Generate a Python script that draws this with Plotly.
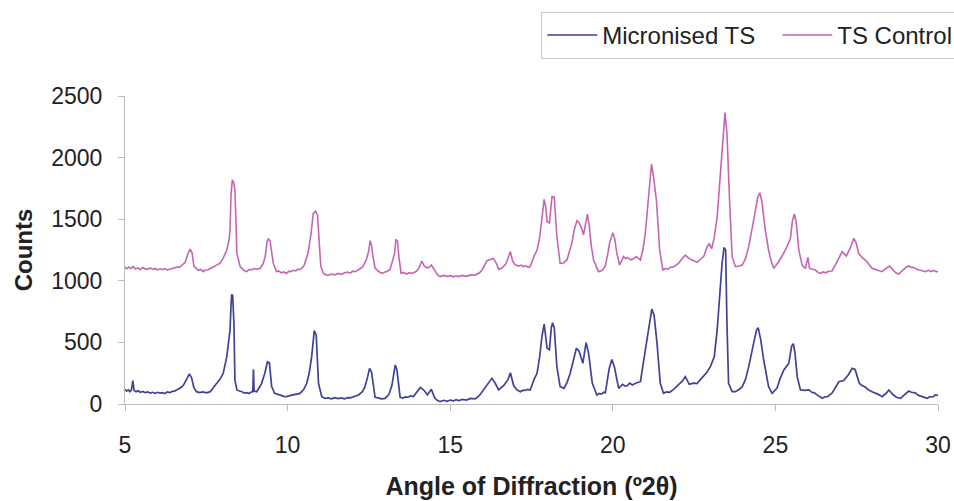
import plotly.graph_objects as go

# ---- data: (angle, counts) ----
control_points = [
    (5.00, 1110), (5.06, 1098), (5.12, 1112), (5.18, 1100), (5.25, 1115), (5.32, 1095), (5.40, 1105), (5.47, 1092),
    (5.55, 1108), (5.62, 1097), (5.70, 1095), (5.78, 1104), (5.85, 1093), (5.93, 1100), (6.00, 1088), (6.08, 1097),
    (6.15, 1090), (6.22, 1099), (6.30, 1088), (6.38, 1097), (6.45, 1100), (6.52, 1105), (6.60, 1112), (6.68, 1110),
    (6.75, 1125), (6.85, 1150), (6.93, 1215), (7.00, 1256), (7.06, 1230), (7.12, 1120), (7.25, 1085), (7.33, 1092),
    (7.41, 1074), (7.48, 1088), (7.55, 1090), (7.62, 1102), (7.70, 1110), (7.80, 1125), (7.92, 1142), (8.03, 1190),
    (8.13, 1250), (8.20, 1330), (8.23, 1420), (8.26, 1700), (8.30, 1818), (8.34, 1800), (8.38, 1737), (8.41, 1500),
    (8.44, 1225), (8.54, 1115), (8.65, 1085), (8.74, 1074), (8.82, 1092), (8.90, 1090), (8.97, 1100), (9.05, 1095),
    (9.15, 1100), (9.25, 1140), (9.31, 1196), (9.37, 1320), (9.41, 1340), (9.46, 1325), (9.50, 1250), (9.56, 1142),
    (9.66, 1074), (9.73, 1080), (9.80, 1065), (9.88, 1072), (9.97, 1060), (10.04, 1078), (10.10, 1075), (10.18, 1085),
    (10.25, 1080), (10.32, 1095), (10.38, 1090), (10.50, 1120), (10.63, 1225), (10.72, 1380), (10.79, 1548), (10.86, 1565),
    (10.92, 1530), (10.97, 1350), (11.02, 1120), (11.10, 1060), (11.18, 1048), (11.25, 1045), (11.35, 1055), (11.45, 1048),
    (11.55, 1060), (11.65, 1052), (11.75, 1066), (11.85, 1070), (11.93, 1062), (12.00, 1078), (12.09, 1075), (12.18, 1090),
    (12.30, 1110), (12.42, 1170), (12.49, 1237), (12.54, 1326), (12.58, 1290), (12.63, 1190), (12.69, 1104), (12.80, 1075),
    (12.90, 1060), (12.98, 1070), (13.05, 1075), (13.15, 1090), (13.24, 1170), (13.29, 1223), (13.33, 1337), (13.38, 1320),
    (13.42, 1200), (13.49, 1060), (13.57, 1068), (13.65, 1055), (13.74, 1066), (13.82, 1060), (13.95, 1075), (14.03, 1100),
    (14.13, 1161), (14.20, 1120), (14.28, 1105), (14.36, 1110), (14.42, 1128), (14.50, 1090), (14.62, 1045), (14.69, 1034),
    (14.80, 1044), (14.90, 1036), (15.00, 1042), (15.10, 1032), (15.18, 1040), (15.26, 1034), (15.38, 1044), (15.50, 1036),
    (15.62, 1048), (15.77, 1045), (15.90, 1065), (15.98, 1088), (16.08, 1140), (16.13, 1163), (16.25, 1175), (16.33, 1182),
    (16.42, 1140), (16.49, 1093), (16.60, 1105), (16.72, 1140), (16.80, 1200), (16.85, 1237), (16.92, 1160), (17.00, 1130),
    (17.10, 1120), (17.18, 1128), (17.25, 1115), (17.33, 1122), (17.40, 1110), (17.46, 1115), (17.58, 1200), (17.67, 1250),
    (17.75, 1350), (17.82, 1520), (17.89, 1661), (17.94, 1600), (17.98, 1480), (18.05, 1470), (18.10, 1620), (18.13, 1683),
    (18.20, 1680), (18.24, 1550), (18.28, 1358), (18.38, 1142), (18.48, 1145), (18.59, 1169), (18.68, 1240), (18.74, 1304),
    (18.82, 1420), (18.90, 1488), (18.97, 1470), (19.05, 1420), (19.10, 1372), (19.16, 1450), (19.22, 1542), (19.28, 1440),
    (19.34, 1280), (19.41, 1169), (19.56, 1074), (19.68, 1085), (19.77, 1120), (19.84, 1210), (19.90, 1304), (20.00, 1391),
    (20.06, 1340), (20.12, 1230), (20.21, 1128), (20.33, 1196), (20.40, 1180), (20.45, 1190), (20.55, 1170), (20.65, 1180),
    (20.72, 1196), (20.85, 1169), (20.93, 1260), (21.00, 1385), (21.13, 1737), (21.19, 1948), (21.25, 1850), (21.34, 1656),
    (21.40, 1420), (21.44, 1250), (21.54, 1088), (21.62, 1100), (21.70, 1095), (21.78, 1112), (21.85, 1110), (22.02, 1142),
    (22.12, 1175), (22.23, 1209), (22.35, 1180), (22.47, 1165), (22.59, 1150), (22.70, 1175), (22.80, 1200), (22.90, 1277),
    (22.97, 1300), (23.04, 1260), (23.12, 1350), (23.21, 1520), (23.31, 1872), (23.38, 2150), (23.45, 2365), (23.51, 2197),
    (23.55, 1900), (23.59, 1656), (23.67, 1196), (23.77, 1115), (23.88, 1120), (23.98, 1128), (24.08, 1180), (24.18, 1277),
    (24.28, 1420), (24.38, 1575), (24.46, 1680), (24.52, 1715), (24.58, 1650), (24.69, 1412), (24.79, 1250), (24.88, 1150),
    (24.95, 1101), (25.10, 1155), (25.20, 1200), (25.31, 1250), (25.46, 1340), (25.52, 1480), (25.58, 1542), (25.64, 1480),
    (25.72, 1250), (25.82, 1128), (25.92, 1100), (26.00, 1190), (26.05, 1100), (26.15, 1095), (26.23, 1088), (26.30, 1070),
    (26.38, 1060), (26.47, 1072), (26.55, 1065), (26.64, 1078), (26.74, 1080), (26.90, 1155), (27.05, 1237), (27.18, 1200),
    (27.31, 1271), (27.41, 1345), (27.48, 1310), (27.56, 1223), (27.66, 1190), (27.77, 1169), (27.87, 1130), (27.97, 1101),
    (28.10, 1090), (28.18, 1080), (28.28, 1074), (28.35, 1090), (28.40, 1100), (28.51, 1120), (28.56, 1105), (28.62, 1090),
    (28.70, 1065), (28.79, 1055), (28.87, 1075), (28.95, 1090), (29.02, 1110), (29.10, 1120), (29.18, 1108), (29.25, 1110),
    (29.33, 1095), (29.40, 1090), (29.50, 1080), (29.62, 1074), (29.70, 1085), (29.80, 1075), (29.88, 1085), (29.95, 1072),
    (30.00, 1078),
]

micronised_points = [
    (5.00, 120), (5.05, 105), (5.10, 115), (5.15, 100), (5.20, 115), (5.24, 189), (5.28, 110), (5.34, 100),
    (5.40, 108), (5.47, 95), (5.55, 102), (5.62, 92), (5.70, 98), (5.78, 88), (5.85, 95), (5.93, 86),
    (6.00, 95), (6.08, 88), (6.15, 92), (6.22, 84), (6.30, 98), (6.38, 92), (6.45, 102), (6.52, 105),
    (6.60, 115), (6.70, 130), (6.80, 154), (6.90, 200), (6.98, 244), (7.05, 210), (7.12, 130), (7.20, 100),
    (7.30, 92), (7.40, 98), (7.50, 90), (7.62, 100), (7.72, 130), (7.82, 168), (7.92, 200), (8.02, 249),
    (8.13, 384), (8.20, 520), (8.23, 601), (8.26, 800), (8.28, 890), (8.31, 880), (8.35, 655), (8.38, 195),
    (8.44, 114), (8.52, 105), (8.60, 100), (8.67, 88), (8.74, 92), (8.82, 85), (8.88, 98), (8.93, 100),
    (8.95, 281), (8.97, 105), (9.05, 100), (9.12, 130), (9.20, 168), (9.30, 250), (9.38, 343), (9.44, 335),
    (9.51, 141), (9.60, 86), (9.70, 75), (9.80, 70), (9.88, 62), (9.97, 60), (10.06, 68), (10.15, 72),
    (10.26, 80), (10.38, 86), (10.50, 120), (10.59, 168), (10.67, 260), (10.74, 384), (10.82, 595), (10.88, 560),
    (10.95, 168), (11.05, 60), (11.15, 45), (11.25, 50), (11.35, 42), (11.45, 52), (11.55, 44), (11.65, 50),
    (11.75, 42), (11.85, 52), (11.93, 50), (12.00, 58), (12.09, 62), (12.18, 73), (12.30, 100), (12.38, 141),
    (12.46, 220), (12.52, 289), (12.58, 260), (12.69, 55), (12.78, 50), (12.88, 42), (13.00, 46), (13.12, 80),
    (13.21, 154), (13.31, 317), (13.36, 280), (13.46, 55), (13.55, 48), (13.62, 58), (13.70, 55), (13.78, 65),
    (13.87, 60), (14.08, 135), (14.18, 115), (14.30, 75), (14.42, 119), (14.52, 50), (14.60, 30), (14.69, 19),
    (14.80, 30), (14.90, 22), (15.00, 32), (15.10, 25), (15.18, 35), (15.26, 28), (15.38, 38), (15.50, 32),
    (15.62, 45), (15.77, 42), (15.90, 70), (16.03, 114), (16.15, 160), (16.28, 208), (16.38, 170), (16.49, 114),
    (16.65, 150), (16.78, 200), (16.85, 254), (16.95, 150), (17.05, 115), (17.16, 100), (17.24, 112), (17.30, 110),
    (17.38, 118), (17.46, 114), (17.58, 200), (17.67, 249), (17.75, 380), (17.82, 546), (17.89, 649), (17.94, 560),
    (17.98, 452), (18.05, 440), (18.11, 620), (18.15, 660), (18.20, 620), (18.28, 303), (18.38, 141), (18.50, 127),
    (18.60, 180), (18.69, 249), (18.80, 380), (18.88, 452), (18.96, 430), (19.08, 330), (19.12, 400), (19.18, 498),
    (19.25, 420), (19.37, 168), (19.51, 73), (19.58, 85), (19.65, 80), (19.72, 95), (19.77, 90), (19.89, 289),
    (19.97, 362), (20.05, 300), (20.18, 127), (20.30, 160), (20.38, 145), (20.45, 150), (20.52, 170), (20.60, 155),
    (20.72, 170), (20.85, 181), (21.00, 438), (21.13, 682), (21.20, 770), (21.27, 720), (21.36, 492), (21.46, 168),
    (21.56, 87), (21.65, 98), (21.75, 95), (21.88, 120), (22.02, 154), (22.15, 190), (22.23, 222), (22.35, 160),
    (22.48, 170), (22.59, 165), (22.70, 200), (22.80, 230), (22.90, 260), (23.00, 303), (23.12, 384), (23.21, 601),
    (23.29, 925), (23.36, 1142), (23.42, 1270), (23.47, 1250), (23.51, 655), (23.56, 168), (23.67, 100), (23.77, 100),
    (23.88, 118), (23.98, 141), (24.08, 200), (24.18, 303), (24.33, 492), (24.42, 600), (24.47, 620), (24.55, 520),
    (24.64, 357), (24.79, 141), (24.90, 87), (25.05, 130), (25.15, 210), (25.26, 276), (25.41, 330), (25.50, 470),
    (25.55, 490), (25.60, 420), (25.67, 222), (25.77, 114), (25.90, 110), (26.03, 114), (26.12, 95), (26.20, 90),
    (26.30, 70), (26.44, 46), (26.52, 58), (26.60, 60), (26.74, 87), (26.85, 140), (26.95, 181), (27.10, 190),
    (27.25, 240), (27.36, 290), (27.45, 280), (27.58, 168), (27.66, 150), (27.75, 140), (27.86, 115), (27.97, 100),
    (28.06, 92), (28.15, 80), (28.22, 70), (28.28, 60), (28.35, 75), (28.40, 85), (28.49, 114), (28.55, 95),
    (28.62, 75), (28.72, 55), (28.85, 46), (28.93, 65), (29.00, 80), (29.10, 105), (29.18, 95), (29.30, 90),
    (29.40, 70), (29.50, 60), (29.58, 52), (29.67, 46), (29.75, 58), (29.85, 60), (29.92, 73), (30.00, 70),
]

control_x = [p[0] for p in control_points]
control_y = [p[1] for p in control_points]
micronised_x = [p[0] for p in micronised_points]
micronised_y = [p[1] for p in micronised_points]

series_names = ["Micronised TS", "TS Control"]
x_ticks = [5, 10, 15, 20, 25, 30]
y_ticks = [0, 500, 1000, 1500, 2000, 2500]

FONT = "Liberation Sans, Arial, sans-serif"
AXIS_COLOR = "#bdbdbd"
TEXT = "#222222"

fig = go.Figure()
fig.add_trace(go.Scatter(x=micronised_x, y=micronised_y, mode="lines", name=series_names[0],
                         line=dict(color="#3f4296", width=1.7)))
fig.add_trace(go.Scatter(x=control_x, y=control_y, mode="lines", name=series_names[1],
                         line=dict(color="#c565b2", width=1.6)))

fig.update_layout(
    width=954, height=501,
    margin=dict(l=125, r=16, t=96, b=97, autoexpand=False),
    paper_bgcolor="white", plot_bgcolor="white",
    font=dict(family=FONT, color=TEXT),
    showlegend=True,
    legend=dict(orientation="h", x=0.512, y=1.273, xanchor="left", yanchor="top",
                bordercolor="#c8c8c8", borderwidth=1, bgcolor="white",
                font=dict(size=24, family=FONT, color=TEXT),
                itemwidth=50, entrywidth=170),
    xaxis=dict(range=[5, 30], tickvals=x_ticks, ticktext=[str(v) for v in x_ticks],
               showgrid=False, zeroline=False, showline=True, linecolor=AXIS_COLOR, linewidth=1,
               ticks="outside", ticklen=6, tickcolor=AXIS_COLOR,
               tickfont=dict(size=23, family=FONT, color=TEXT), ticklabelstandoff=14,
               title=dict(text="<b>Angle of Diffraction (º2θ)</b>", standoff=20,
                          font=dict(size=25, family=FONT, color=TEXT)),
               automargin=False),
    yaxis=dict(range=[0, 2500], tickvals=y_ticks, ticktext=[str(v) for v in y_ticks],
               showgrid=False, zeroline=False, showline=True, linecolor=AXIS_COLOR, linewidth=1,
               ticks="outside", ticklen=6, tickcolor=AXIS_COLOR,
               tickfont=dict(size=23, family=FONT, color=TEXT), ticklabelstandoff=11,
               title=dict(text="<b>Counts</b>", standoff=11,
                          font=dict(size=24, family=FONT, color=TEXT)),
               automargin=False),
)

fig.write_html("out.html")
